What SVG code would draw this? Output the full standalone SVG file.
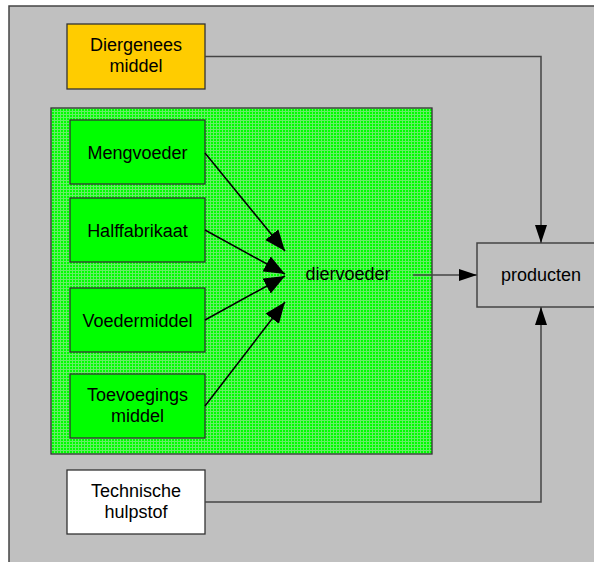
<svg xmlns="http://www.w3.org/2000/svg" width="594" height="562" viewBox="0 0 594 562">
<style>
text{font-family:"Liberation Sans",Arial,sans-serif;font-size:18px;fill:#000;text-anchor:middle}
.box{stroke:#333;stroke-width:1.3}
.green{fill:#00FF00}
.conn{fill:none;stroke:#444;stroke-width:1.5}
.diag{fill:none;stroke:#000;stroke-width:1.5}
</style>
<defs>
<pattern id="grid" width="3" height="3" patternUnits="userSpaceOnUse">
<rect width="3" height="3" fill="#00FF00"/>
<rect width="3" height="1" fill="#66EE66"/>
<rect width="1" height="3" fill="#66EE66"/>
</pattern>
<marker id="big" viewBox="0 0 21 17" refX="21" refY="8.5" markerWidth="21" markerHeight="17" markerUnits="userSpaceOnUse" orient="auto">
<path d="M0,0 L21,8.5 L0,17 Z" fill="#000"/>
</marker>
<marker id="small" viewBox="0 0 18 12" refX="18" refY="6" markerWidth="18" markerHeight="12" markerUnits="userSpaceOnUse" orient="auto">
<path d="M0,0 L18,6 L0,12 Z" fill="#000"/>
</marker>
</defs>
<rect x="9" y="6" width="600" height="570" fill="#C0C0C0" stroke="#444" stroke-width="1.5"/>
<g id="diervoeder">
<rect x="51" y="108" width="381" height="346" fill="url(#grid)" stroke="#333" stroke-width="1.3"/>
<text x="348" y="280">diervoeder</text>
</g>
<g id="diergenees">
<rect class="box" x="67" y="24" width="138" height="65" fill="#FFCC00"/>
<text x="136" y="51">Diergenees</text>
<text x="136" y="72">middel</text>
</g>
<g id="mengvoeder">
<rect class="box green" x="70" y="120" width="135" height="64"/>
<text x="137.5" y="158.5">Mengvoeder</text>
</g>
<g id="halffabrikaat">
<rect class="box green" x="70" y="198" width="135" height="64"/>
<text x="137.5" y="236.5">Halffabrikaat</text>
</g>
<g id="voedermiddel">
<rect class="box green" x="70" y="288" width="135" height="64"/>
<text x="137.5" y="326.5">Voedermiddel</text>
</g>
<g id="toevoegings">
<rect class="box green" x="70" y="374" width="135" height="64"/>
<text x="137.5" y="401">Toevoegings</text>
<text x="137.5" y="422">middel</text>
</g>
<g id="technische">
<rect class="box" x="67" y="470" width="138" height="64" fill="#FFFFFF"/>
<text x="136" y="497">Technische</text>
<text x="136" y="518">hulpstof</text>
</g>
<g id="producten">
<rect x="477" y="243" width="135" height="64" fill="#C0C0C0" stroke="#444" stroke-width="1.5"/>
<text x="541" y="281">producten</text>
</g>
<g id="connectors">
<path class="diag" d="M205,153 L285,251" marker-end="url(#big)"/>
<path class="diag" d="M205,230 L285,274" marker-end="url(#big)"/>
<path class="diag" d="M205,320 L285,276" marker-end="url(#big)"/>
<path class="diag" d="M205,406 L285,302" marker-end="url(#big)"/>
<path class="conn" d="M413,275 L477,275" marker-end="url(#small)"/>
<path class="conn" d="M205,56.5 L541,56.5 L541,243" marker-end="url(#small)"/>
<path class="conn" d="M205,502 L541,502 L541,307" marker-end="url(#small)"/>
</g>
</svg>
